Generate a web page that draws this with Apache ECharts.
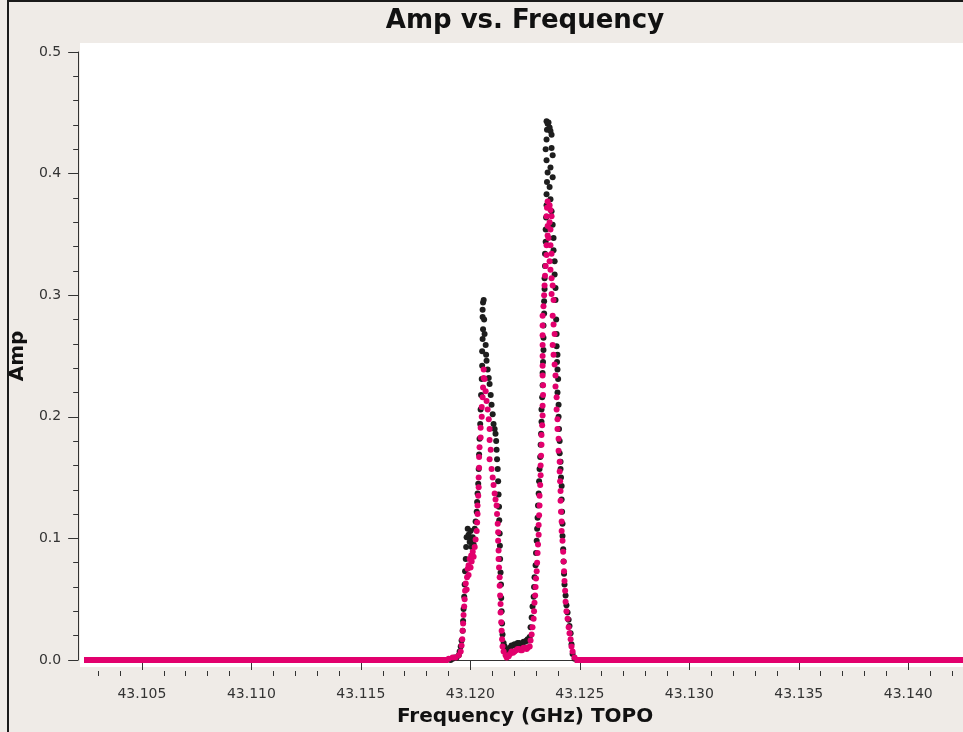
<!DOCTYPE html>
<html>
<head>
<meta charset="utf-8">
<script src="https://cdn.jsdelivr.net/npm/echarts@6/dist/echarts.min.js"></script>
<style>
  html, body { margin: 0; padding: 0; background: #efebe7; }
  #chart { width: 963px; height: 732px; }
</style>
</head>
<body>
<div id="chart"></div>
<script>
// Frequency axis (GHz) tick positions
const xMajorTicks = [43.105, 43.110, 43.115, 43.120, 43.125, 43.130, 43.135, 43.140];
const xMinorTicks = [43.103, 43.104, 43.106, 43.107, 43.108, 43.109, 43.111, 43.112, 43.113, 43.114,
  43.116, 43.117, 43.118, 43.119, 43.121, 43.122, 43.123, 43.124, 43.126, 43.127, 43.128, 43.129,
  43.131, 43.132, 43.133, 43.134, 43.136, 43.137, 43.138, 43.139, 43.141, 43.142];

// Line-free channels (amplitude ~0) on either side of the emission
const zeroBandLow = [[43.10228, 0], [43.11901, 0]];
const zeroBandHigh = [[43.12476, 0], [43.1425, 0]];

// Correlation 1: [frequency GHz, amplitude]
const ampCorr1 = [
  [43.11910,0.000],[43.11919,0.001],[43.11928,0.002],[43.11937,0.002],[43.11947,0.004],[43.11951,0.007],
  [43.11956,0.011],[43.11960,0.016],[43.11965,0.024],[43.11967,0.032],[43.11969,0.042],[43.11972,0.052],
  [43.11974,0.062],[43.11976,0.073],[43.11979,0.083],[43.11981,0.093],[43.11983,0.101],[43.11988,0.108],
  [43.11992,0.103],[43.11997,0.097],[43.12001,0.106],[43.12004,0.099],[43.12006,0.093],[43.12011,0.101],
  [43.12015,0.095],[43.12020,0.108],[43.12024,0.114],[43.12029,0.122],[43.12031,0.130],[43.12033,0.137],
  [43.12036,0.145],[43.12038,0.157],[43.12040,0.169],[43.12042,0.182],[43.12045,0.194],[43.12047,0.206],
  [43.12049,0.218],[43.12052,0.231],[43.12054,0.242],[43.12054,0.254],[43.12056,0.264],[43.12058,0.272],
  [43.12056,0.282],[43.12056,0.288],[43.12058,0.294],[43.12061,0.296],[43.12063,0.280],[43.12065,0.268],
  [43.12070,0.259],[43.12072,0.251],[43.12074,0.246],[43.12079,0.239],[43.12084,0.232],[43.12088,0.227],
  [43.12093,0.218],[43.12097,0.210],[43.12102,0.202],[43.12106,0.194],[43.12111,0.190],[43.12115,0.186],
  [43.12118,0.180],[43.12120,0.173],[43.12122,0.165],[43.12125,0.157],[43.12127,0.147],[43.12129,0.136],
  [43.12131,0.126],[43.12132,0.115],[43.12134,0.104],[43.12135,0.094],[43.12136,0.083],[43.12138,0.072],
  [43.12140,0.062],[43.12141,0.051],[43.12143,0.040],[43.12145,0.030],[43.12147,0.021],[43.12152,0.014],
  [43.12157,0.011],[43.12166,0.007],[43.12170,0.008],[43.12175,0.008],[43.12181,0.010],[43.12188,0.012],
  [43.12195,0.012],[43.12202,0.013],[43.12209,0.012],[43.12216,0.014],[43.12223,0.014],[43.12230,0.013],
  [43.12236,0.013],[43.12243,0.015],[43.12250,0.015],[43.12257,0.016],[43.12262,0.017],[43.12266,0.016],
  [43.12271,0.019],[43.12275,0.027],[43.12280,0.035],[43.12284,0.044],[43.12289,0.052],[43.12291,0.060],
  [43.12293,0.068],[43.12298,0.078],[43.12300,0.088],[43.12303,0.098],[43.12305,0.108],[43.12307,0.117],
  [43.12309,0.127],[43.12312,0.137],[43.12314,0.147],[43.12316,0.157],[43.12319,0.167],[43.12321,0.177],
  [43.12323,0.186],[43.12325,0.196],[43.12325,0.206],[43.12328,0.216],[43.12330,0.226],[43.12330,0.236],
  [43.12332,0.245],[43.12334,0.255],[43.12334,0.265],[43.12334,0.275],[43.12337,0.285],[43.12337,0.295],
  [43.12339,0.305],[43.12339,0.314],[43.12341,0.324],[43.12341,0.334],[43.12344,0.344],[43.12344,0.354],
  [43.12346,0.364],[43.12348,0.374],[43.12348,0.383],[43.12350,0.393],[43.12353,0.401],[43.12348,0.411],
  [43.12344,0.420],[43.12348,0.428],[43.12350,0.436],[43.12353,0.441],[43.12348,0.443],[43.12357,0.442],
  [43.12362,0.438],[43.12366,0.435],[43.12371,0.432],[43.12371,0.421],[43.12376,0.415],[43.12366,0.405],
  [43.12376,0.397],[43.12362,0.389],[43.12366,0.379],[43.12371,0.369],[43.12376,0.358],[43.12380,0.347],
  [43.12380,0.337],[43.12385,0.328],[43.12385,0.317],[43.12389,0.306],[43.12389,0.296],[43.12392,0.280],
  [43.12394,0.268],[43.12394,0.258],[43.12398,0.251],[43.12396,0.245],[43.12398,0.239],[43.12401,0.231],
  [43.12398,0.220],[43.12403,0.210],[43.12403,0.200],[43.12405,0.190],[43.12408,0.180],[43.12408,0.170],
  [43.12412,0.163],[43.12412,0.157],[43.12414,0.150],[43.12417,0.143],[43.12417,0.132],[43.12419,0.122],
  [43.12421,0.112],[43.12421,0.102],[43.12424,0.091],[43.12426,0.081],[43.12428,0.071],[43.12430,0.062],
  [43.12435,0.053],[43.12439,0.045],[43.12444,0.039],[43.12449,0.033],[43.12453,0.028],[43.12458,0.022],
  [43.12462,0.013],[43.12467,0.005],[43.12476,0.001]
];

// Correlation 2: [frequency GHz, amplitude]
const ampCorr2 = [
  [43.11901,0.001],[43.11919,0.002],[43.11933,0.002],[43.11947,0.004],[43.11956,0.007],[43.11960,0.012],
  [43.11963,0.017],[43.11965,0.024],[43.11967,0.030],[43.11969,0.037],[43.11972,0.044],[43.11974,0.050],
  [43.11976,0.057],[43.11979,0.063],[43.11983,0.058],[43.11985,0.068],[43.11988,0.075],[43.11992,0.070],
  [43.11992,0.078],[43.11997,0.083],[43.12001,0.076],[43.12004,0.086],[43.12006,0.081],[43.12011,0.089],
  [43.12015,0.085],[43.12020,0.093],[43.12024,0.099],[43.12029,0.106],[43.12031,0.113],[43.12033,0.120],
  [43.12033,0.127],[43.12036,0.135],[43.12038,0.142],[43.12038,0.150],[43.12040,0.158],[43.12040,0.167],
  [43.12042,0.175],[43.12047,0.183],[43.12047,0.191],[43.12052,0.200],[43.12052,0.208],[43.12056,0.216],
  [43.12058,0.224],[43.12061,0.232],[43.12061,0.239],[43.12065,0.231],[43.12070,0.221],[43.12074,0.213],
  [43.12079,0.206],[43.12084,0.198],[43.12088,0.190],[43.12088,0.181],[43.12093,0.173],[43.12088,0.165],
  [43.12097,0.157],[43.12102,0.150],[43.12106,0.144],[43.12111,0.137],[43.12115,0.132],[43.12120,0.127],
  [43.12122,0.120],[43.12125,0.112],[43.12127,0.105],[43.12127,0.098],[43.12129,0.090],[43.12129,0.083],
  [43.12131,0.076],[43.12134,0.068],[43.12134,0.061],[43.12136,0.053],[43.12138,0.046],[43.12138,0.039],
  [43.12141,0.031],[43.12143,0.024],[43.12145,0.017],[43.12147,0.011],[43.12152,0.007],[43.12161,0.004],
  [43.12166,0.002],[43.12170,0.003],[43.12175,0.003],[43.12181,0.005],[43.12188,0.007],[43.12195,0.006],
  [43.12202,0.007],[43.12209,0.008],[43.12216,0.009],[43.12223,0.009],[43.12230,0.008],[43.12236,0.008],
  [43.12243,0.010],[43.12250,0.010],[43.12257,0.009],[43.12262,0.010],
  [43.12271,0.011],[43.12275,0.016],[43.12280,0.021],[43.12284,0.027],[43.12289,0.034],[43.12291,0.040],
  [43.12293,0.047],[43.12296,0.053],[43.12298,0.060],[43.12300,0.067],[43.12303,0.073],[43.12305,0.080],
  [43.12307,0.088],[43.12309,0.095],[43.12312,0.103],[43.12312,0.111],[43.12314,0.119],[43.12316,0.127],
  [43.12316,0.135],[43.12319,0.144],[43.12321,0.152],[43.12321,0.160],[43.12323,0.168],[43.12325,0.177],
  [43.12325,0.185],[43.12328,0.193],[43.12330,0.201],[43.12330,0.209],[43.12332,0.218],[43.12332,0.226],
  [43.12330,0.234],[43.12330,0.242],[43.12330,0.250],[43.12330,0.259],[43.12330,0.267],[43.12330,0.275],
  [43.12330,0.283],[43.12334,0.291],[43.12337,0.300],[43.12339,0.308],[43.12341,0.316],[43.12344,0.324],
  [43.12348,0.333],[43.12348,0.341],[43.12353,0.349],[43.12353,0.357],[43.12348,0.365],[43.12350,0.372],
  [43.12353,0.377],[43.12362,0.374],[43.12366,0.370],[43.12371,0.365],[43.12362,0.360],[43.12366,0.354],
  [43.12357,0.347],[43.12366,0.341],[43.12371,0.334],[43.12362,0.328],[43.12366,0.321],[43.12371,0.314],
  [43.12376,0.308],[43.12371,0.301],[43.12380,0.296],[43.12376,0.283],[43.12380,0.276],[43.12385,0.268],
  [43.12376,0.259],[43.12380,0.251],[43.12385,0.243],[43.12389,0.234],[43.12389,0.225],[43.12394,0.216],
  [43.12394,0.206],[43.12398,0.198],[43.12398,0.190],[43.12403,0.182],[43.12403,0.172],[43.12408,0.163],
  [43.12408,0.155],[43.12410,0.147],[43.12412,0.139],[43.12412,0.131],[43.12414,0.122],[43.12417,0.114],
  [43.12417,0.106],[43.12421,0.098],[43.12424,0.089],[43.12426,0.081],[43.12428,0.073],[43.12430,0.065],
  [43.12433,0.057],[43.12435,0.048],[43.12439,0.040],[43.12444,0.034],[43.12449,0.027],[43.12453,0.022],
  [43.12458,0.017],[43.12462,0.011],[43.12467,0.007],[43.12476,0.002]
];

const COLOR_1 = '#1e1e1e';
const COLOR_2 = '#e2006d';
const AXIS_COLOR = '#333333';
const FONT = 'DejaVu Sans';

const chart = echarts.init(document.getElementById('chart'), null, { renderer: 'canvas' });

chart.setOption({
  animation: false,
  backgroundColor: '#efebe7',
  textStyle: { fontFamily: FONT },
  graphic: [
    // white plotting canvas
    { type: 'rect', z: -10, shape: { x: 80, y: 43, width: 883, height: 624 }, style: { fill: '#ffffff' } },
    // window frame
    { type: 'line', z: 10, shape: { x1: 8, y1: 0, x2: 8, y2: 732 }, style: { stroke: '#1a1a1a', lineWidth: 2 } },
    { type: 'line', z: 10, shape: { x1: 8, y1: 1, x2: 963, y2: 1 }, style: { stroke: '#1a1a1a', lineWidth: 2 } },
    // plot title
    { type: 'text', z: 10, x: 525, y: 21,
      style: { text: 'Amp vs. Frequency', fill: '#111111', font: 'bold 26px "DejaVu Sans"',
               textAlign: 'center', textVerticalAlign: 'middle' } }
  ],
  grid: { left: 86, right: 0, top: 52, bottom: 71, containLabel: false },
  xAxis: [
    {
      type: 'value', min: 43.1025, max: 43.1425, position: 'bottom', offset: 11,
      axisLine: { show: true, lineStyle: { color: AXIS_COLOR, width: 1 } },
      axisTick: { show: true, length: 10, customValues: xMajorTicks, lineStyle: { color: AXIS_COLOR } },
      axisLabel: { customValues: xMajorTicks, formatter: v => v.toFixed(3), fontSize: 14,
                   color: '#333333', margin: 16, fontFamily: FONT },
      splitLine: { show: false },
      name: 'Frequency (GHz) TOPO', nameLocation: 'middle', nameGap: 36,
      nameTextStyle: { fontSize: 20, fontWeight: 'bold', color: '#111111', fontFamily: FONT }
    },
    {
      type: 'value', min: 43.1025, max: 43.1425, position: 'bottom', offset: 11,
      axisLine: { show: false },
      axisTick: { show: true, length: 5, customValues: xMinorTicks, lineStyle: { color: AXIS_COLOR } },
      axisLabel: { show: false },
      splitLine: { show: false }
    }
  ],
  yAxis: {
    type: 'value', min: 0, max: 0.5, interval: 0.1, offset: 9,
    axisLine: { show: true, lineStyle: { color: AXIS_COLOR, width: 1 } },
    axisTick: { show: true, length: 10, lineStyle: { color: AXIS_COLOR } },
    minorTick: { show: true, splitNumber: 5, length: 5, lineStyle: { color: AXIS_COLOR } },
    axisLabel: { formatter: v => v.toFixed(1), fontSize: 14, color: '#333333', margin: 17, fontFamily: FONT },
    splitLine: { show: false },
    name: 'Amp', nameLocation: 'middle', nameGap: 46, nameRotate: 90,
    nameTextStyle: { fontSize: 20, fontWeight: 'bold', color: '#111111', fontFamily: FONT }
  },
  series: [
    { name: 'corr1', type: 'scatter', xAxisIndex: 0, data: ampCorr1, symbolSize: 6, clip: false, z: 2,
      itemStyle: { color: COLOR_1, opacity: 1 } },
    { name: 'zero-low', type: 'line', xAxisIndex: 0, data: zeroBandLow, showSymbol: false, clip: false, z: 3,
      lineStyle: { color: COLOR_2, width: 6 } },
    { name: 'zero-high', type: 'line', xAxisIndex: 0, data: zeroBandHigh, showSymbol: false, clip: false, z: 3,
      lineStyle: { color: COLOR_2, width: 6 } },
    { name: 'corr2', type: 'scatter', xAxisIndex: 0, data: ampCorr2, symbolSize: 6, clip: false, z: 4,
      itemStyle: { color: COLOR_2, opacity: 1 } }
  ]
});
</script>
</body>
</html>
